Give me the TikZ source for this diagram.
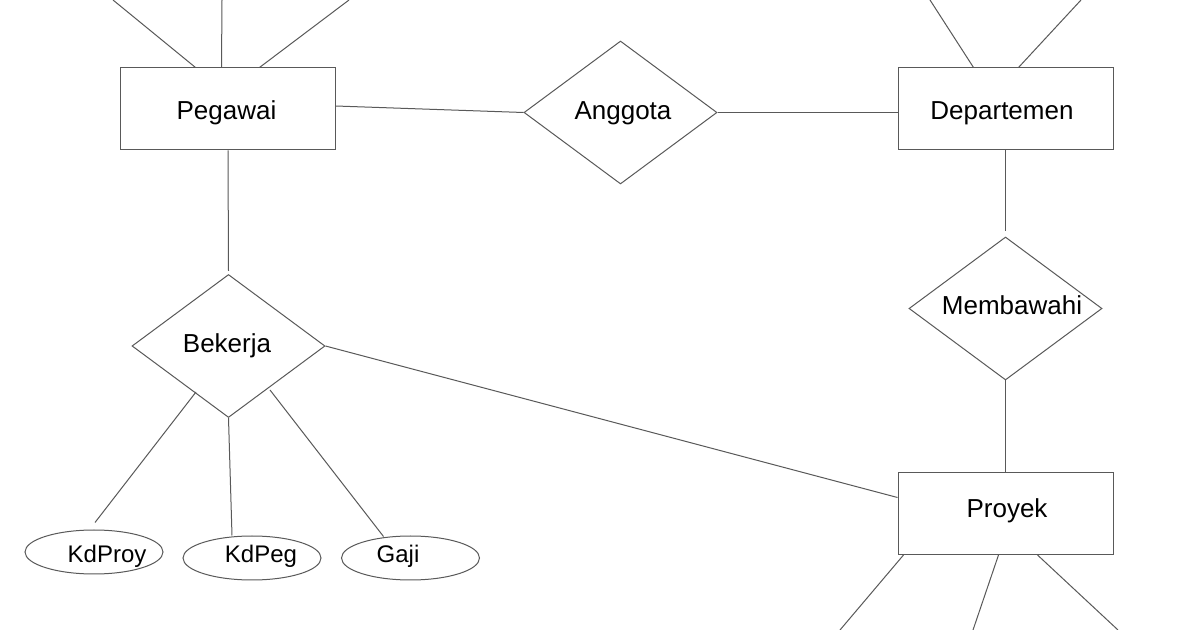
\documentclass[tikz,border=0pt]{standalone}
\usepackage{fontspec}
\setmainfont{Liberation Sans}
\usetikzlibrary{shapes.geometric,calc}
\begin{document}
\begin{tikzpicture}[x=0.5pt,y=-0.5pt,
  ln/.style={draw=black!65,line width=0.5pt},
  ent/.style={ln,rectangle,minimum width=107.5pt,minimum height=41pt,inner sep=0pt},
  rel/.style={ln,diamond,minimum width=96.5pt,minimum height=71.5pt,inner sep=0pt},
  att/.style={ln,ellipse,minimum width=69pt,minimum height=22pt,inner sep=0pt},
  big/.style={anchor=base,inner sep=0pt,font=\fontsize{13pt}{15pt}\selectfont},
  small/.style={anchor=base,inner sep=0pt,font=\fontsize{12pt}{14pt}\selectfont}]
\useasboundingbox (0,0) rectangle (1200,630);
\fill[white] (0,0) rectangle (1200,630);
% entities
\node[ent] (peg) at (227.5,109) {};
\node[ent] (dep) at (1005.5,109) {};
\node[ent] (pro) at (1005.5,513.5) {};
% relationships
\node[rel] (ang) at (620.5,112.5) {};
\node[rel] (mem) at (1005.5,308.5) {};
\node[rel] (bek) at (228.5,346) {};
% attributes
\node[att] (kdproy) at (94,552) {};
\node[att] (kdpeg) at (252,558) {};
\node[att] (gaji) at (410.5,558) {};
% labels
\node[big] (tpeg) at (226.5,120) {Pegawai};
\node[big] (tdep) at (1002,120) {Departemen};
\node[big] (tpro) at (1007,518) {Proyek};
\node[big] (tang) at (623,120) {Anggota};
\node[big] (tmem) at (1012,315) {Membawahi};
\node[big] (tbek) at (227,353) {Bekerja};
\node[small] (tkdproy) at (107,562) {KdProy};
\node[small] (tkdpeg) at (261,563) {KdPeg};
\node[small] (tgaji) at (398,563) {Gaji};
% free ends
\coordinate (p1) at (113,0);
\coordinate (p2) at (222,0);
\coordinate (p3) at (349,0);
\coordinate (d1) at (930,0);
\coordinate (d2) at (1081,0);
\coordinate (r1) at (840,630);
\coordinate (r2) at (973,630);
\coordinate (r3) at (1118,630);
\coordinate (bk1) at (196,392);
\coordinate (bk3) at (270,390);
% connectors
\draw[ln] ($(peg.north west)+(76,0)$) -- (p1);
\draw[ln] ($(peg.north west)+(102,0)$) -- (p2);
\draw[ln] ($(peg.north west)+(140,0)$) -- (p3);
\draw[ln] ($(dep.north west)+(76,0)$) -- (d1);
\draw[ln] ($(dep.north west)+(121,0)$) -- (d2);
\draw[ln] ($(peg.east)+(0,-3)$) -- (ang.west);
\draw[ln] (ang.east) -- (dep.west |- ang.east);
\draw[ln] ($(peg.south)+(0.5,0)$) -- ($(bek.north)+(0,-3)$);
\draw[ln] (dep.south) -- ($(mem.north)+(0,-5)$);
\draw[ln] (mem.south) -- (pro.north);
\draw[ln] (bek.east) -- ($(pro.west)+(0,-16)$);
\draw[ln] (bk1) -- ($(kdproy.north)+(1,-7)$);
\draw[ln] (bek.south) -- ($(kdpeg.north)+(-20,0)$);
\draw[ln] (bk3) -- ($(gaji.north)+(-27,1)$);
\draw[ln] ($(pro.south west)+(6,0)$) -- (r1);
\draw[ln] ($(pro.south west)+(101,0)$) -- (r2);
\draw[ln] ($(pro.south west)+(140,0)$) -- (r3);
\end{tikzpicture}
\end{document}
